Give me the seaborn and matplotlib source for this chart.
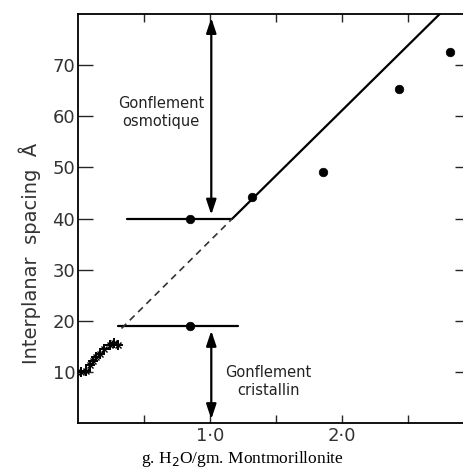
import numpy as np
import pandas as pd
import seaborn as sns
import matplotlib.pyplot as plt

# --- Data ---
xtick_vals = [0.5, 1.0, 1.5, 2.0, 2.5]
xtick_labels = ['', '1·0', '', '2·0', '']
ytick_vals = [10, 20, 30, 40, 50, 60, 70]

# low water content (crosses)
low_x = [0.02, 0.06, 0.09, 0.115, 0.14, 0.17, 0.20, 0.24, 0.27, 0.30]
low_y = [10.0, 10.2, 11.4, 12.2, 12.9, 13.5, 14.5, 15.3, 15.7, 15.3]

# osmotic swelling points
osm_x = [0.85, 1.32, 1.86, 2.43, 2.82]
osm_y = [40.0, 44.3, 49.2, 65.3, 72.5]

# crystalline step point
cry_x = [0.85]
cry_y = [19.0]

# plateaus and the swelling line
plat40_x = [0.37, 1.17]
plat40_y = [40, 40]
plat19_x = [0.30, 1.21]
plat19_y = [19, 19]
fit_x = [1.17, 2.74]
fit_y = [40, 80]
dash_x = [0.33, 1.17]
dash_y = [18.5, 40]

sns.set_style("white")
plt.rcParams['font.family'] = ['DejaVu Sans']

fig = plt.figure(figsize=(4.64, 4.69), dpi=100)
ax = fig.add_axes([0.168, 0.098, 0.845, 0.872])

pts = pd.DataFrame({'x': osm_x + cry_x, 'y': osm_y + cry_y})
low = pd.DataFrame({'x': low_x, 'y': low_y})

sns.lineplot(x=plat40_x, y=plat40_y, ax=ax, color='black', lw=1.6)
sns.lineplot(x=plat19_x, y=plat19_y, ax=ax, color='black', lw=1.6)
sns.lineplot(x=fit_x, y=fit_y, ax=ax, color='black', lw=1.6)
ax.plot(dash_x, dash_y, color='#333333', lw=1.2, ls=(0, (4, 3)))
sns.scatterplot(data=pts, x='x', y='y', ax=ax, color='black', s=38, edgecolor='black', zorder=5)
ax.plot(low['x'], low['y'], ls='none', marker='+', ms=7, mew=1.4, color='black')
ax.plot(low['x'], low['y'], ls='none', marker='x', ms=4, mew=1.0, color='black')

# double arrows
ax.annotate('', xy=(1.01, 79.8), xytext=(1.01, 40.2),
            arrowprops=dict(arrowstyle='<|-|>,head_length=0.9,head_width=0.3', color='black', lw=1.6))
ax.annotate('', xy=(1.01, 0.2), xytext=(1.01, 18.6),
            arrowprops=dict(arrowstyle='<|-|>,head_length=0.9,head_width=0.3', color='black', lw=1.6))

ax.text(0.63, 60.7, 'Gonflement\nosmotique', ha='center', va='center', fontsize=10.5, color='#222222', linespacing=1.25)
ax.text(1.44, 8.2, 'Gonflement\ncristallin', ha='center', va='center', fontsize=10.5, color='#222222', linespacing=1.25)

ax.set_xlim(0, 2.97)
ax.set_ylim(0, 80)
ax.set_xticks(xtick_vals)
ax.set_xticklabels(xtick_labels)
ax.set_yticks(ytick_vals)
ax.tick_params(axis='x', direction='in', length=6, width=1, top=True, bottom=True,
               labelsize=13, labelcolor='#333333', pad=3)
ax.tick_params(axis='y', direction='in', length=11, width=1, left=True, right=True,
               labelsize=13, labelcolor='#333333', pad=2)

for s in ['left', 'top', 'bottom']:
    ax.spines[s].set_visible(True)
    ax.spines[s].set_linewidth(1.3)
    ax.spines[s].set_color('black')
ax.spines['right'].set_visible(False)

ax.set_xlabel('')
ax.set_ylabel('')
fig.text(30 / 464, 1 - 253 / 469, 'Interplanar  spacing  Å', rotation=90, ha='center', va='center',
         fontsize=14, color='#333333')
fig.text(242 / 464, 1 - 459 / 469, 'g. H$_2$O/gm. Montmorillonite', ha='center', va='center',
         fontsize=12.5, family='Liberation Serif', color='black')

fig.savefig('out.png', dpi=100)
